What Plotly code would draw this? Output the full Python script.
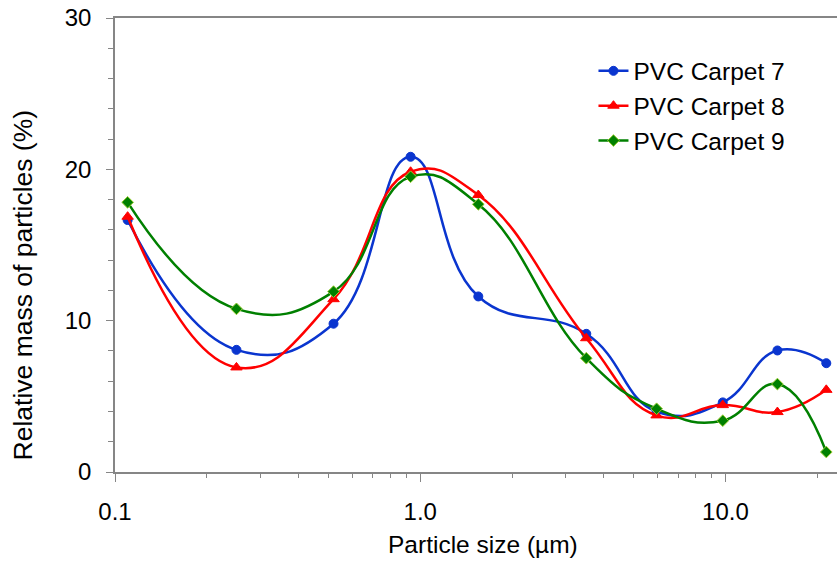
import plotly.graph_objects as go

# Particle size (µm)
sizes = [0.11, 0.25, 0.52, 0.93, 1.55, 3.5, 5.95, 9.8, 14.8, 21.4]
carpet7 = [16.65, 8.07, 9.8, 20.83, 11.6, 9.13, 4.0, 4.6, 8.03, 7.19]
carpet8 = [16.87, 6.91, 11.42, 19.84, 18.3, 8.84, 3.74, 4.42, 3.96, 5.43]
carpet9 = [17.82, 10.78, 11.92, 19.51, 17.69, 7.52, 4.18, 3.39, 5.81, 1.32]

x_tickvals = [0.1, 1, 10]
x_ticktext = ["0.1", "1.0", "10.0"]
x_minor = [0.2, 0.3, 0.4, 0.5, 0.6, 0.7, 0.8, 0.9, 2, 3, 4, 5, 6, 7, 8, 9, 20]

FONT = "Liberation Sans, Arial, sans-serif"
AX = "#868686"

fig = go.Figure()
series = [
    ("PVC Carpet 7", carpet7, "#0A35CF", "circle", 9, "#0A35CF"),
    ("PVC Carpet 8", carpet8, "#FF0000", "triangle-up", 10, "#FF0000"),
    ("PVC Carpet 9", carpet9, "#008000", "diamond", 9, "#9ACD32"),
]
for name, ys, col, sym, sz, edge in series:
    fig.add_trace(go.Scatter(
        x=sizes, y=ys, name=name, mode="lines+markers",
        line=dict(color=col, width=2.5, shape="spline", smoothing=1.3),
        marker=dict(symbol=sym, size=sz, color=col, line=dict(color=edge, width=1)),
    ))

fig.update_layout(
    width=837, height=565,
    margin=dict(l=115, r=0, t=18, b=93),
    plot_bgcolor="white", paper_bgcolor="white",
    font=dict(family=FONT, size=24, color="black"),
    showlegend=True,
    legend=dict(x=0.6627, y=0.933, xanchor="left", yanchor="top",
                font=dict(size=24.5), bgcolor="rgba(0,0,0,0)",
                itemwidth=30, tracegroupgap=0),
    xaxis=dict(type="log", range=[-1, 1.3655],
               tickvals=x_tickvals, ticktext=x_ticktext,
               ticks="outside", ticklen=8, tickcolor=AX, tickwidth=1,
               showline=True, linecolor=AX, linewidth=1.5, mirror=True,
               showgrid=False, zeroline=False,
               ticklabelstandoff=9, tickfont=dict(size=24),
               minor=dict(tickvals=x_minor, ticks="outside", ticklen=4,
                          tickcolor=AX, showgrid=False)),
    yaxis=dict(range=[0, 30], dtick=10,
               ticks="outside", ticklen=7, tickcolor=AX, tickwidth=1,
               showline=True, linecolor=AX, linewidth=1.5,
               showgrid=False, zeroline=False,
               ticklabelstandoff=10, tickfont=dict(size=24),
               minor=dict(dtick=2, ticks="outside", ticklen=5,
                          tickcolor=AX, showgrid=False)),
    annotations=[
        dict(text="Particle size (µm)", xref="paper", yref="paper",
             x=0.51, y=0, yshift=-72, xanchor="center", yanchor="middle",
             showarrow=False, font=dict(size=24.5)),
        dict(text="Relative mass of particles (%)", xref="paper", yref="paper",
             x=0, xshift=-92, y=0.411, xanchor="center", yanchor="middle",
             textangle=-90, showarrow=False, font=dict(size=26.5)),
    ],
)

fig.write_html("out.html")
